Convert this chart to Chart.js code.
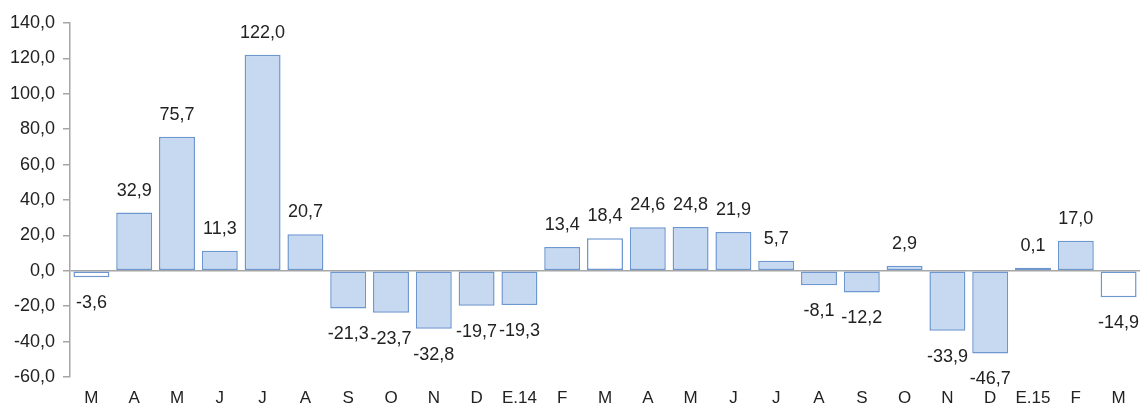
<!DOCTYPE html>
<html>
<head>
<meta charset="utf-8">
<script src="https://cdn.jsdelivr.net/npm/chart.js@4/dist/chart.umd.min.js"></script>
<style>
  html, body { margin: 0; padding: 0; background: #fff; }
  #wrap { width: 1143px; height: 406px; position: relative; }
</style>
</head>
<body>
<div id="wrap"><canvas id="c"></canvas></div>
<script>
// monthly change, values
var months = ['M','A','M','J','J','A','S','O','N','D','E.14','F','M','A','M','J','J','A','S','O','N','D','E.15','F','M'];
var values = [-3.6, 32.9, 75.7, 11.3, 122.0, 20.7, -21.3, -23.7, -32.8, -19.7, -19.3, 13.4, 18.4, 24.6, 24.8, 21.9, 5.7, -8.1, -12.2, 2.9, -33.9, -46.7, 0.1, 17.0, -14.9];
var yTicks = [-60, -40, -20, 0, 20, 40, 60, 80, 100, 120, 140];

var fillBlue = '#C6D9F1';
var edgeBlue = '#6E97CF';
var font = '"Liberation Sans", Arial, sans-serif';

// the March bars are drawn white
var fills = months.map(function (m, i) { return m === 'M' && (i === 0 || i === 12 || i === 24) ? '#FFFFFF' : fillBlue; });

function fmt(v) { return v.toFixed(1).replace('.', ','); }

// value labels above / below the bars
var barLabels = {
  id: 'barLabels',
  afterDatasetsDraw: function (chart) {
    var ctx = chart.ctx;
    var meta = chart.getDatasetMeta(0);
    ctx.save();
    ctx.font = '18px ' + font;
    ctx.fillStyle = '#222';
    ctx.textAlign = 'center';
    ctx.textBaseline = 'middle';
    meta.data.forEach(function (bar, i) {
      var v = values[i];
      var y = v >= 0 ? bar.y - 22 : bar.y + 26;
      ctx.fillText(fmt(v), bar.x, y);
    });
    ctx.restore();
  }
};

new Chart(document.getElementById('c'), {
  type: 'bar',
  data: {
    labels: months,
    datasets: [{
      data: values,
      backgroundColor: fills,
      borderColor: edgeBlue,
      borderWidth: 1.5,
      borderSkipped: false,
      minBarLength: 3,
      barPercentage: 0.84,
      categoryPercentage: 1.0
    }]
  },
  options: {
    responsive: true,
    maintainAspectRatio: false,
    animation: false,
    layout: { padding: { top: 23, right: 3, left: 0, bottom: 0 } },
    plugins: { legend: { display: false }, tooltip: { enabled: false } },
    scales: {
      x: {
        grid: { display: false, drawTicks: false },
        border: { display: false },
        ticks: {
          color: '#222',
          padding: 11,
          maxRotation: 0,
          autoSkip: false,
          font: { size: 17, family: font }
        },
        afterFit: function (s) { s.height = 29; }
      },
      y: {
        min: -60,
        max: 140,
        afterBuildTicks: function (s) { s.ticks = yTicks.map(function (v) { return { value: v }; }); },
        grid: {
          color: function (c) { return c.tick && c.tick.value === 0 ? '#A6A6A6' : 'rgba(0,0,0,0)'; },
          lineWidth: 1.5,
          tickColor: '#A6A6A6',
          tickLength: 7,
          drawTicks: true
        },
        border: { display: true, color: '#A6A6A6', width: 1.5 },
        ticks: {
          color: '#222',
          padding: 8,
          font: { size: 18, family: font },
          callback: function (v) { return fmt(v); }
        },
        afterFit: function (s) { s.width = 70; }
      }
    }
  },
  plugins: [barLabels]
});
</script>
</body>
</html>
